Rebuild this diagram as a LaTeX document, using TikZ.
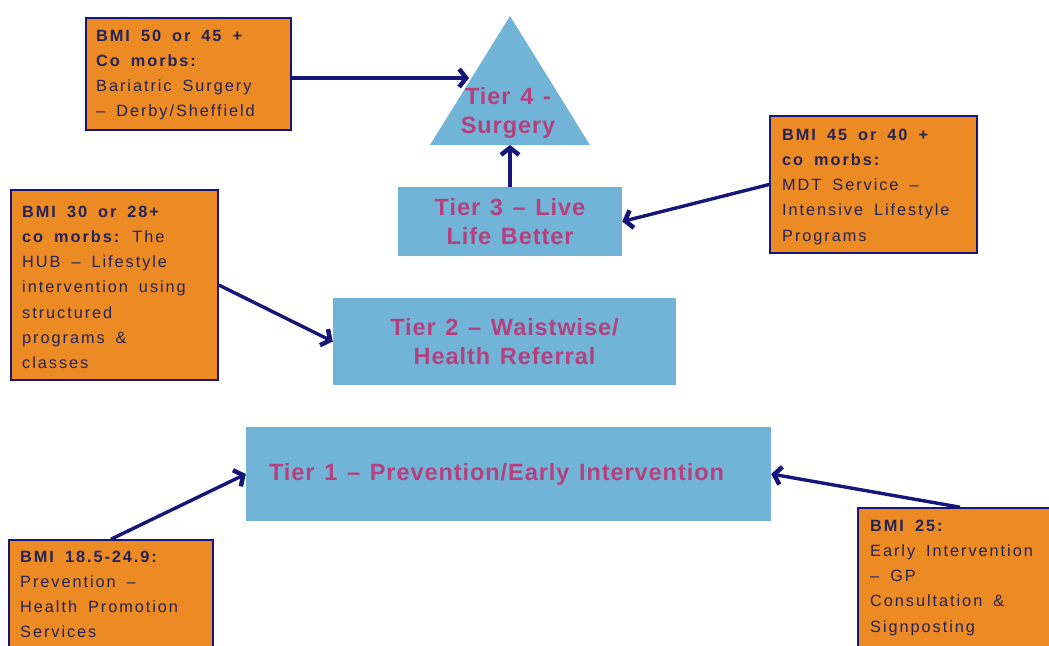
\documentclass[tikz,border=0pt]{standalone}
\usepackage{fontspec}
\setmainfont{Liberation Sans}
\newfontfamily\boxfont[Ligatures=TeX,LetterSpace=12,WordSpace=1.7]{Liberation Sans}
\newfontfamily\tierfont[Ligatures=TeX,LetterSpace=4,WordSpace=1.3]{Liberation Sans}
\usetikzlibrary{arrows.meta}
\definecolor{boxorange}{HTML}{EC8B24}
\definecolor{tierblue}{HTML}{72B4D7}
\definecolor{navy}{HTML}{15157A}
\definecolor{tiertext}{HTML}{B5407D}
\definecolor{boxtext}{HTML}{23235A}
\tikzset{
  obox/.style={draw=navy, line width=1.6pt, fill=boxorange, inner sep=0pt},
  tbox/.style={fill=tierblue, inner sep=0pt, align=center, text=tiertext,
    font=\tierfont\bfseries\fontsize{23.5}{28.5}\selectfont},
  ttxt/.style={inner sep=0pt, align=center, text=tiertext,
    font=\tierfont\bfseries\fontsize{23.5}{28.5}\selectfont},
  btxt/.style={anchor=north west, inner sep=0pt, align=left, text=boxtext,
    font=\boxfont\fontsize{16.3}{25.3}\selectfont},
  conn/.style={draw=navy, line width=3.4pt, -{Straight Barb[length=7pt,width=18pt,line width=4.5pt]}}
}
\begin{document}
\begin{tikzpicture}[x=1pt,y=-1pt]
\useasboundingbox (0,0) rectangle (1049,645);
% Tier 4 triangle
\path[fill=tierblue] (510,16) -- (590,145) -- (430,145) -- cycle;
\coordinate (t4base) at (510,145);
\coordinate (t4left) at (469,78);
\node[ttxt] (t4) at (508,113) {Tier 4 -\\Surgery};
% Tier boxes
\node[tbox, minimum width=224pt, minimum height=69pt] (t3) at (510,221.5) {Tier 3 -- Live\\Life Better};
\node[tbox, minimum width=343pt, minimum height=87pt] (t2) at (504.5,341.5) {Tier 2 -- Waistwise/\\Health Referral};
\node[tbox, minimum width=525pt, minimum height=94pt] (t1) at (508.5,474) {Tier 1 -- Prevention/Early Intervention\hspace*{24pt}};
% orange boxes
\node[obox, minimum width=205pt, minimum height=112pt] (a) at (188.5,74) {};
\node[btxt] at (96,29.5) {\bfseries BMI 50 or 45 +\\\bfseries Co morbs:\\Bariatric Surgery\\-- Derby/Sheffield};
\node[obox, minimum width=207pt, minimum height=137pt] (b) at (873.5,184.5) {};
\node[btxt] at (782,128.5) {\bfseries BMI 45 or 40 +\\\bfseries co morbs:\\MDT Service --\\Intensive Lifestyle\\Programs};
\node[obox, minimum width=207pt, minimum height=190pt] (c) at (114.5,285) {};
\node[btxt] at (22,205.5) {\bfseries BMI 30 or 28+\\{\bfseries co morbs:} The\\HUB -- Lifestyle\\intervention using\\structured\\programs \&\\classes};
\node[obox, minimum width=204pt, minimum height=115pt] (d) at (111,597.5) {};
\node[btxt] at (20,550.5) {\bfseries BMI 18.5-24.9:\\Prevention --\\Health Promotion\\Services};
\node[obox, minimum width=204pt, minimum height=147pt] (e) at (960,581.5) {};
\node[btxt] at (870,519.5) {\bfseries BMI 25:\\Early Intervention\\-- GP\\Consultation \&\\Signposting};
% connectors
\draw[conn] (t4left -| a.east) -- (t4left);
\draw[conn] (t3.north) -- (t4base);
\draw[conn] (b.west) -- (t3.east);
\draw[conn] (c.east) -- (t2.west);
\draw[conn] (d.north) -- (t1.west);
\draw[conn] (e.north) -- (t1.east);
\end{tikzpicture}
\end{document}
